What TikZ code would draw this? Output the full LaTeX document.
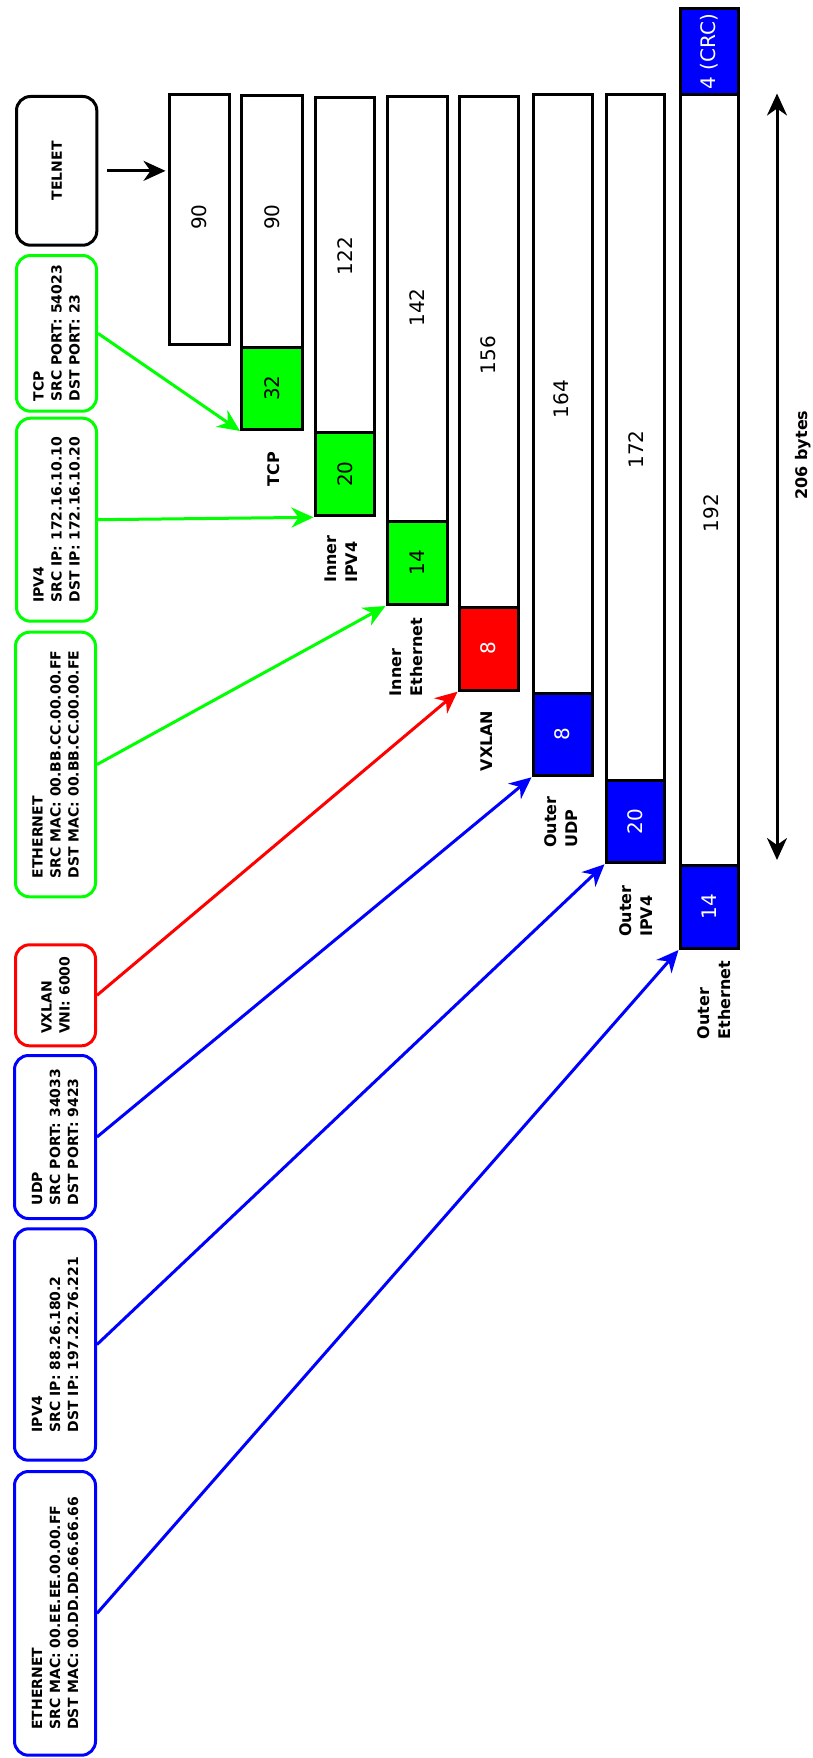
\documentclass[tikz,border=0pt]{standalone}
\usepackage{fontspec}
\setmainfont{DejaVu Sans}
\usetikzlibrary{arrows.meta,fit}
\begin{document}
\begin{tikzpicture}[x=1pt,y=-1pt,
  every node/.style={inner sep=0pt},
  seg/.style={draw=black,line width=3pt,fill=#1},
  seg/.default=white,
  num/.style={font=\fontsize{20}{24}\selectfont,rotate=90},
  wnum/.style={num,text=white},
  lbl/.style={font=\fontsize{16}{21}\selectfont\bfseries,rotate=90,align=left},
  info/.style={draw=#1,line width=3pt,rounded corners=14pt},
  infotext/.style={font=\fontsize{14}{18}\selectfont\bfseries,rotate=90,align=left},
  tip/.tip={Stealth[length=22pt,width=20pt,inset=7pt]},
  conn/.style={draw=#1,line width=3pt,-tip},
  span/.style={draw=black,line width=3pt,tip-tip},
]
\useasboundingbox (0,0) rectangle (812,1758);

% ---- header descriptions: boxes ----
\node[info=black, fit={(16.5,96.5) (96.8,245.2)}] (telnet) {};
\node[info=green, fit={(16.5,255.5) (96.5,411.2)}] (tcp) {};
\node[info=green, fit={(16.5,418.2) (96.5,621.2)}] (ipin) {};
\node[info=green, fit={(15.5,632.2) (95.5,896.8)}] (ethin) {};
\node[info=red, fit={(15.5,944.8) (95.5,1045.8)}] (vxlan) {};
\node[info=blue, fit={(14.5,1055.5) (95.5,1218.5)}] (udp) {};
\node[info=blue, fit={(14.5,1228.8) (95.5,1460.2)}] (ipout) {};
\node[info=blue, fit={(14.5,1471.5) (95.5,1755.2)}] (ethout) {};

% ---- header descriptions: texts ----
\node[infotext] (telnet-t) at (telnet.center) {TELNET};
\node[infotext] (tcp-t) at (tcp.center) {TCP\\SRC PORT: 54023\\DST PORT: 23};
\node[infotext] (ipin-t) at (ipin.center) {IPV4\\SRC IP: 172.16.10.10\\DST IP: 172.16.10.20};
\node[infotext] (ethin-t) at (ethin.center) {ETHERNET\\SRC MAC: 00.BB.CC.00.00.FF\\DST MAC: 00.BB.CC.00.00.FE};
\node[infotext] (vxlan-t) at (vxlan.center) {VXLAN\\VNI: 6000};
\node[infotext] (udp-t) at (udp.center) {UDP\\SRC PORT: 34033\\DST PORT: 9423};
\node[infotext] (ipout-t) at (ipout.center) {IPV4\\SRC IP: 88.26.180.2\\DST IP: 197.22.76.221};
\node[infotext] (ethout-t) at (ethout.center) {ETHERNET\\SRC MAC: 00.EE.EE.00.00.FF\\DST MAC: 00.DD.DD.66.66.66};

% ---- frame columns: payload part ----
\node[seg, fit={(169,94.8) (229.5,344.2)}] (d1) {};
\node[seg, fit={(241.5,95.8) (302.5,347)}] (d2) {};
\node[seg, fit={(315,97.2) (374.5,432.5)}] (d3) {};
\node[seg, fit={(387,96.5) (447,521)}] (d4) {};
\node[seg, fit={(459,96.5) (518,607)}] (d5) {};
\node[seg, fit={(533,94.8) (592,693)}] (d6) {};
\node[seg, fit={(606,94.8) (664.5,780)}] (d7) {};
\node[seg, fit={(680,94.8) (738,865)}] (d8) {};

% ---- frame columns: added header ----
\node[seg=green, fit={(241.5,347) (302.5,429.5)}] (h2) {};
\node[seg=green, fit={(315,432.5) (374.5,515.8)}] (h3) {};
\node[seg=green, fit={(387,521) (447,604.5)}] (h4) {};
\node[seg=red, fit={(459,607) (518,690.2)}] (h5) {};
\node[seg=blue, fit={(533,693) (592,775.8)}] (h6) {};
\node[seg=blue, fit={(606,780) (664.5,862.8)}] (h7) {};
\node[seg=blue, fit={(680,865) (738,948.5)}] (h8) {};
\node[seg=blue, fit={(680,8.2) (738,94.8)}] (crc) {};

% ---- header sizes ----
\node[num] (h2-t) at (h2.center) {32};
\node[num] (h3-t) at (h3.center) {20};
\node[num] (h4-t) at (h4.center) {14};
\node[wnum] (h5-t) at (h5.center) {8};
\node[wnum] (h6-t) at (h6.center) {8};
\node[wnum] (h7-t) at (h7.center) {20};
\node[wnum] (h8-t) at (h8.center) {14};
\node[wnum] (crc-t) at (crc.center) {4 (CRC)};

% ---- payload sizes ----
\node[num] (n1) at (199,217) {90};
\node[num] (n2) at (272,217) {90};
\node[num] (n3) at (345,256) {122};
\node[num] (n4) at (417,307.5) {142};
\node[num] (n5) at (488,355) {156};
\node[num] (n6) at (561,399) {164};
\node[num] (n7) at (636,449.5) {172};
\node[num] (n8) at (711,513) {192};

% ---- header names ----
\node[lbl] (l2) at (274,469) {TCP};
\node[lbl] (l3) at (341,559) {Inner\\IPV4};
\node[lbl] (l4) at (406,657) {Inner\\Ethernet};
\node[lbl] (l5) at (487,741) {VXLAN};
\node[lbl] (l6) at (561,822) {Outer\\UDP};
\node[lbl] (l7) at (636,911) {Outer\\IPV4};
\node[lbl] (l8) at (714,1000) {Outer\\Ethernet};

% ---- connectors ----
\draw[conn=black] ([xshift=8.5pt]telnet.east) -- ([xshift=-2pt]telnet.east -| d1.west);
\draw[conn=green] (tcp.east) -- (h2.south west);
\draw[conn=green] (ipin.east) -- (h3.south west);
\draw[conn=green] (ethin.east) -- (h4.south west);
\draw[conn=red] (vxlan.east) -- (h5.south west);
\draw[conn=blue] (udp.east) -- (h6.south west);
\draw[conn=blue] (ipout.east) -- (h7.south west);
\draw[conn=blue] (ethout.east) -- (h8.south west);

% ---- total frame length ----
\coordinate (ttop) at (777,93.5);
\coordinate (tbot) at (777,860);
\draw[span] (ttop) -- (tbot);
\node[lbl] (total) at (803,455) {206 bytes};
\end{tikzpicture}
\end{document}
